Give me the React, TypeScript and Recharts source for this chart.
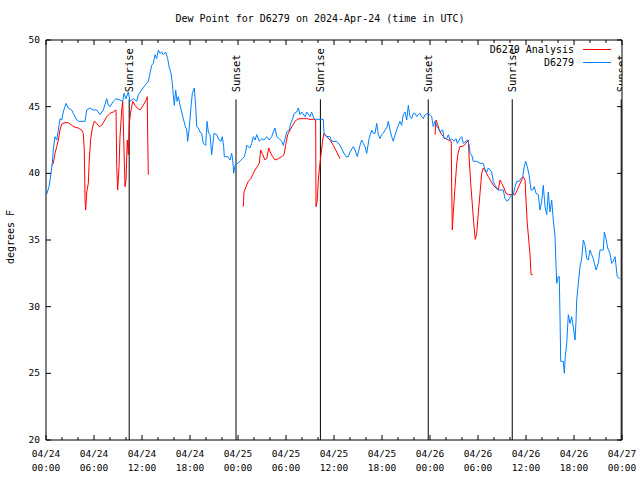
import React from 'react';
import { ComposedChart, Line, Scatter, XAxis, YAxis, ReferenceLine } from 'recharts';

const FONT = '"DejaVu Sans Mono", monospace';
const FS = 9.5;

// hours after 2024-04-24 00:00 UTC, dew point (degrees F)
const d6279: [number, number][] = [
  [0.09, 38.45], [0.38, 39.0], [0.63, 40.0], [0.79, 40.8], [0.91, 41.75], [1.13, 42.75], [1.34, 42.5],
  [1.54, 43.25], [1.75, 44.1], [1.96, 44.0], [2.16, 44.6], [2.5, 45.25], [2.79, 44.9], [3.21, 44.75],
  [3.41, 44.5], [3.84, 44.0], [4.04, 43.9], [4.88, 43.9], [5.09, 44.75], [5.5, 44.9], [5.91, 44.75],
  [6.34, 44.75], [6.75, 44.4], [7.16, 44.75], [7.59, 45.6], [7.79, 45.1], [8.0, 45.0], [8.41, 45.4],
  [8.75, 45.6], [9.25, 45.5], [9.59, 45.4], [9.75, 46.0], [10.0, 45.6], [10.29, 46.1], [10.5, 45.4],
  [10.91, 45.6], [11.34, 45.4], [11.54, 45.9], [11.96, 46.25], [12.38, 46.6], [12.79, 46.9], [13.0, 47.5],
  [13.21, 48.1], [13.41, 48.25], [13.63, 48.9], [13.84, 48.6], [14.04, 49.25], [14.25, 49.0], [14.46, 49.1],
  [14.66, 48.9], [14.96, 49.1], [15.21, 48.6], [15.38, 48.0], [15.63, 47.5], [15.79, 46.75], [15.91, 45.9],
  [16.04, 45.1], [16.21, 46.25], [16.38, 45.4], [16.54, 45.75], [16.75, 45.1], [16.96, 44.6], [17.16, 44.1],
  [17.38, 43.6], [17.59, 43.25], [17.71, 42.4], [17.88, 43.25], [18.13, 45.0], [18.29, 46.0], [18.54, 46.4],
  [18.71, 45.0], [18.84, 43.5], [19.04, 43.4], [19.25, 43.1], [19.46, 43.0], [19.66, 42.25], [19.96, 42.1],
  [20.13, 43.9], [20.29, 43.1], [20.5, 42.9], [20.71, 41.4], [20.84, 42.1], [21.0, 43.0], [21.34, 42.9],
  [21.63, 42.5], [21.88, 42.4], [22.04, 42.75], [22.21, 42.0], [22.29, 41.25], [22.71, 41.25], [23.0, 41.0],
  [23.21, 41.5], [23.34, 41.0], [23.46, 40.0], [23.63, 40.6], [23.96, 40.75], [24.25, 40.9], [24.54, 41.1],
  [24.79, 41.25], [25.0, 41.75], [25.09, 42.1], [25.5, 41.9], [25.71, 42.25], [25.91, 42.75], [26.13, 42.5],
  [26.34, 42.9], [26.66, 42.4], [26.96, 42.6], [27.25, 42.5], [27.59, 42.75], [27.91, 42.5], [28.21, 42.75],
  [28.41, 43.1], [28.63, 43.4], [28.84, 42.75], [29.16, 42.6], [29.46, 42.4], [29.66, 42.1], [29.88, 42.6],
  [30.09, 43.1], [30.41, 43.25], [30.59, 43.75], [30.84, 44.1], [31.04, 44.5], [31.34, 44.6], [31.54, 44.9],
  [31.75, 44.4], [31.96, 44.6], [32.38, 44.25], [32.59, 44.6], [33.0, 44.25], [33.21, 44.6], [33.5, 44.1],
  [33.84, 44.05], [34.66, 44.05], [34.75, 43.0], [35.0, 42.75], [35.5, 42.75], [35.71, 42.4], [36.34, 42.4],
  [36.75, 42.1], [37.16, 41.6], [37.5, 41.25], [37.79, 41.25], [38.0, 41.6], [38.41, 42.0], [38.63, 41.75],
  [38.91, 41.25], [39.25, 42.1], [39.46, 42.5], [39.66, 42.25], [39.88, 42.0], [40.09, 41.5], [40.38, 42.6],
  [40.71, 43.25], [40.91, 43.0], [41.13, 43.0], [41.34, 43.75], [41.54, 42.9], [41.75, 42.6], [41.96, 42.9],
  [42.16, 43.0], [42.38, 43.25], [42.59, 43.4], [42.79, 43.9], [43.0, 43.25], [43.21, 42.75], [43.41, 42.4],
  [43.63, 42.9], [43.84, 43.25], [44.04, 43.6], [44.25, 43.9], [44.46, 43.6], [44.66, 44.4], [44.88, 44.6],
  [45.09, 44.0], [45.29, 45.1], [45.5, 44.25], [45.71, 44.1], [45.91, 44.5], [46.13, 44.5], [46.34, 44.25],
  [46.54, 44.4], [46.75, 44.5], [46.96, 44.25], [47.16, 44.1], [47.38, 44.4], [47.79, 44.5], [48.0, 44.4],
  [48.21, 44.25], [48.41, 43.5], [48.63, 43.9], [48.84, 43.5], [49.04, 43.4], [49.25, 43.1], [49.59, 43.25],
  [49.75, 42.6], [50.09, 42.6], [50.29, 42.9], [50.5, 42.5], [50.71, 42.6], [51.0, 42.4], [51.25, 42.6],
  [51.41, 42.25], [51.75, 42.6], [51.96, 42.75], [52.16, 42.25], [52.5, 42.4], [52.71, 42.5], [52.91, 42.1],
  [53.0, 41.5], [53.21, 41.4], [53.41, 40.9], [53.84, 40.9], [54.25, 40.75], [54.66, 40.75], [54.88, 40.25],
  [55.09, 40.1], [55.29, 40.4], [55.5, 40.25], [55.71, 40.1], [55.91, 39.4], [56.13, 39.1], [56.34, 38.9],
  [56.54, 38.75], [57.16, 38.75], [57.38, 38.1], [57.66, 37.9], [57.91, 38.1], [58.21, 38.4], [58.41, 38.4],
  [58.63, 39.0], [58.84, 39.4], [59.16, 39.4], [59.34, 39.6], [59.59, 39.75], [59.75, 40.4], [59.96, 40.9],
  [60.16, 40.5], [60.38, 39.9], [60.63, 38.75], [60.84, 38.75], [61.04, 39.0], [61.25, 38.5], [61.54, 38.4],
  [61.75, 37.25], [61.96, 37.9], [62.16, 39.1], [62.38, 37.5], [62.59, 36.9], [62.79, 38.6], [63.0, 37.1],
  [63.21, 38.0], [63.41, 36.5], [63.63, 35.25], [63.75, 33.1], [63.84, 31.75], [64.04, 32.25], [64.16, 32.25],
  [64.25, 29.25], [64.34, 25.9], [64.66, 25.9], [64.79, 25.0], [64.91, 26.25], [65.09, 27.25], [65.29, 29.4],
  [65.5, 28.75], [65.71, 29.25], [65.91, 28.5], [66.13, 27.5], [66.25, 28.9], [66.34, 30.5], [66.54, 31.75],
  [66.75, 33.0], [66.96, 33.6], [67.16, 35.0], [67.38, 34.6], [67.59, 33.6], [67.79, 33.5], [68.0, 34.25],
  [68.21, 33.9], [68.41, 33.6], [68.75, 32.75], [69.04, 33.25], [69.25, 34.25], [69.66, 34.25], [69.79, 35.6],
  [70.0, 35.1], [70.21, 34.4], [70.5, 34.0], [70.71, 33.25], [70.91, 33.4], [71.13, 33.75], [71.25, 33.1],
  [71.41, 32.25], [71.75, 32.1],
];

// D6279 Analysis, three separate runs
const analysisRun1: [number, number][] = [
  [0.71, 40.6], [0.91, 40.75], [1.13, 41.5], [1.34, 42.0], [1.54, 42.5], [1.75, 43.25], [1.96, 43.7],
  [2.38, 43.8], [2.79, 43.8], [3.21, 43.6], [3.63, 43.45], [4.04, 43.4], [4.46, 43.25], [4.66, 43.0],
  [4.79, 41.75], [4.88, 38.0], [4.96, 37.25], [5.09, 38.6], [5.29, 39.25], [5.41, 41.0], [5.59, 42.6],
  [5.79, 43.4], [6.04, 43.9], [6.34, 43.75], [6.66, 43.5], [6.96, 43.6], [7.25, 43.9], [7.59, 44.25],
  [8.0, 44.5], [8.41, 44.6], [8.75, 44.75], [8.84, 40.5], [8.96, 38.75], [9.13, 40.5], [9.25, 42.75],
  [9.46, 44.75], [9.59, 45.4], [9.75, 41.75], [9.88, 39.0], [10.0, 39.5], [10.16, 42.5], [10.29, 41.4],
  [10.41, 43.75], [10.59, 44.6], [10.84, 45.4], [11.13, 45.1], [11.41, 44.9], [11.75, 44.75], [12.16, 45.1],
  [12.59, 45.6], [12.66, 45.75], [12.71, 42.9], [12.79, 39.9],
];
const analysisRun2: [number, number][] = [
  [24.66, 37.5], [24.75, 38.6], [25.0, 39.0], [25.29, 39.4], [25.59, 39.6], [25.84, 39.9], [26.13, 40.25],
  [26.41, 40.5], [26.66, 40.75], [26.84, 41.75], [27.09, 41.4], [27.38, 41.0], [27.59, 41.1], [27.84, 41.9],
  [28.09, 41.5], [28.34, 41.25], [28.63, 41.0], [29.04, 41.1], [29.46, 41.25], [29.75, 41.4], [30.0, 42.25],
  [30.21, 42.9], [30.5, 43.25], [30.84, 43.6], [31.13, 43.9], [31.41, 44.05], [31.75, 44.1], [32.16, 44.1],
  [32.59, 44.1], [33.0, 44.05], [33.41, 44.05], [33.71, 44.0], [33.75, 37.5], [33.91, 38.0], [34.04, 39.5],
  [34.16, 40.25], [34.34, 41.25], [34.59, 42.5], [34.75, 43.0], [35.09, 42.75], [35.5, 42.5], [35.91, 42.1],
  [36.34, 41.6], [36.75, 41.1],
];
const analysisRun3: [number, number][] = [
  [48.63, 42.9], [48.75, 44.0], [48.91, 43.75], [49.16, 43.25], [49.46, 42.9], [49.75, 42.7], [50.09, 42.55],
  [50.5, 42.45], [50.66, 42.4], [50.71, 39.0], [50.79, 35.75], [50.91, 37.0], [51.13, 39.0], [51.34, 40.75],
  [51.54, 41.6], [51.75, 42.0], [52.16, 42.05], [52.5, 42.25], [52.79, 42.5], [52.91, 41.0], [53.09, 39.25],
  [53.34, 37.25], [53.5, 36.0], [53.66, 35.05], [53.84, 35.5], [54.04, 37.0], [54.25, 38.5], [54.46, 40.0],
  [54.66, 40.4], [55.0, 40.1], [55.29, 39.75], [55.63, 39.4], [55.91, 39.1], [56.25, 38.9], [56.54, 38.75],
  [56.75, 39.5], [56.96, 39.25], [57.25, 38.9], [57.5, 38.5], [57.79, 38.4], [58.63, 38.4], [58.91, 38.75],
  [59.16, 39.1], [59.46, 39.5], [59.66, 39.75], [59.88, 39.5], [60.0, 38.0], [60.16, 36.25], [60.38, 34.75],
  [60.5, 33.9], [60.63, 32.4], [60.84, 32.4],
];

const sunHours = [10.4, 23.75, 34.3, 47.78, 58.28, 71.9];
const sunLabels = ['Sunrise', 'Sunset', 'Sunrise', 'Sunset', 'Sunrise', 'Sunset'];
const sunLineTop = 45.55;

const legendNames = ['D6279 Analysis', 'D6279'];
const legendColors = ['#ff0000', '#0080ff'];

const xTickHours = [0, 2, 4, 6, 8, 10, 12, 14, 16, 18, 20, 22, 24, 26, 28, 30, 32, 34, 36, 38, 40, 42, 44, 46, 48, 50, 52, 54, 56, 58, 60, 62, 64, 66, 68, 70, 72];
const yTickValues = [20, 25, 30, 35, 40, 45, 50];

const toRows = (pts: [number, number][]) => pts.map(([t, v]) => ({ t, v }));
const sunRows = sunHours.map((t, i) => ({ t, v: sunLineTop, label: sunLabels[i] }));

const pad = (n: number) => (n < 10 ? '0' + n : '' + n);

const XTick = (props: any) => {
  const { x, y, payload, side } = props;
  const h = payload.value;
  const major = h % 6 === 0;
  const len = major ? 5 : 3;
  if (side === 'top') {
    return <line x1={x} x2={x} y1={y} y2={y + len} stroke="#000" />;
  }
  const day = 24 + Math.floor(h / 24);
  return (
    <g>
      <line x1={x} x2={x} y1={y} y2={y - len} stroke="#000" />
      {major && (
        <text x={x} y={y} textAnchor="middle" fontFamily={FONT} fontSize={FS} fill="#000">
          <tspan x={x} dy={17}>{`04/${day}`}</tspan>
          <tspan x={x} dy={14}>{`${pad(h % 24)}:00`}</tspan>
        </text>
      )}
    </g>
  );
};

const YTick = (props: any) => {
  const { x, y, payload, side } = props;
  if (side === 'right') {
    return <line x1={x} x2={x - 5} y1={y} y2={y} stroke="#000" />;
  }
  return (
    <g>
      <line x1={x} x2={x + 5} y1={y} y2={y} stroke="#000" />
      <text x={x - 6} y={y} dy={3} textAnchor="end" fontFamily={FONT} fontSize={FS} fill="#000">
        {payload.value}
      </text>
    </g>
  );
};

const SunLabel = (props: any) => {
  const { cx, cy, payload } = props;
  const ty = cy - 7;
  return (
    <text
      x={cx}
      y={ty}
      transform={`rotate(-90 ${cx} ${ty})`}
      dominantBaseline="central"
      fontFamily={FONT}
      fontSize={FS + 1}
      fill="#000"
    >
      {payload.label}
    </text>
  );
};

export default function App() {
  return (
    <div style={{ position: 'fixed', left: 0, top: 0, width: 640, height: 480, background: '#fff' }}>
      <div
        style={{
          position: 'absolute', top: 13, left: 0, width: 640, textAlign: 'center',
          fontFamily: FONT, fontSize: FS + 0.5, color: '#000',
        }}
      >
        Dew Point for D6279 on 2024-Apr-24 (time in UTC)
      </div>
      <div
        style={{
          position: 'absolute', left: 10, top: 237, transform: 'translate(-50%, -50%) rotate(-90deg)',
          fontFamily: FONT, fontSize: FS + 0.5, whiteSpace: 'nowrap', color: '#000',
        }}
      >
        degrees F
      </div>
      <div style={{ position: 'absolute', top: 43, right: 29, fontFamily: FONT, fontSize: FS + 0.5, zIndex: 2 }}>
        {legendNames.map((name, i) => (
          <div key={name} style={{ display: 'flex', alignItems: 'center', justifyContent: 'flex-end', height: 13 }}>
            <span style={{ marginRight: 9 }}>{name}</span>
            <span style={{ display: 'inline-block', width: 28, height: 0, borderTop: `1px solid ${legendColors[i]}` }} />
          </div>
        ))}
      </div>
      <ComposedChart width={640} height={480} margin={{ top: 39, right: 17, bottom: 39, left: 45 }}>
        <XAxis
          xAxisId="b" type="number" dataKey="t" domain={[0, 72]} ticks={xTickHours} allowDataOverflow
          height={1} tickSize={0} tickMargin={0} interval={0} stroke="#000"
          tick={(p: any) => <XTick {...p} side="bottom" />}
        />
        <XAxis
          xAxisId="t" orientation="top" type="number" dataKey="t" domain={[0, 72]} ticks={xTickHours} allowDataOverflow
          height={1} tickSize={0} tickMargin={0} interval={0} stroke="#000"
          tick={(p: any) => <XTick {...p} side="top" />}
        />
        <YAxis
          yAxisId="l" type="number" domain={[20, 50]} ticks={yTickValues} allowDataOverflow
          width={1} tickSize={0} tickMargin={0} interval={0} stroke="#000"
          tick={(p: any) => <YTick {...p} side="left" />}
        />
        <YAxis
          yAxisId="r" orientation="right" type="number" domain={[20, 50]} ticks={yTickValues} allowDataOverflow
          width={1} tickSize={0} tickMargin={0} interval={0} stroke="#000"
          tick={(p: any) => <YTick {...p} side="right" />}
        />
        {sunHours.map((h) => (
          <ReferenceLine
            key={h} xAxisId="b" yAxisId="l" stroke="#000" strokeWidth={1}
            segment={[{ x: h, y: 20 }, { x: h, y: sunLineTop }]}
          />
        ))}
        <Line
          xAxisId="b" yAxisId="l" data={toRows(analysisRun1)} dataKey="v"
          stroke="#ff0000" strokeWidth={1} dot={false} isAnimationActive={false}
        />
        <Line
          xAxisId="b" yAxisId="l" data={toRows(analysisRun2)} dataKey="v"
          stroke="#ff0000" strokeWidth={1} dot={false} isAnimationActive={false}
        />
        <Line
          xAxisId="b" yAxisId="l" data={toRows(analysisRun3)} dataKey="v"
          stroke="#ff0000" strokeWidth={1} dot={false} isAnimationActive={false}
        />
        <Line
          xAxisId="b" yAxisId="l" data={toRows(d6279)} dataKey="v"
          stroke="#0080ff" strokeWidth={1} dot={false} isAnimationActive={false}
        />
        <Scatter
          xAxisId="b" yAxisId="l" data={sunRows} dataKey="v"
          shape={(p: any) => <SunLabel {...p} />} isAnimationActive={false}
        />
      </ComposedChart>
    </div>
  );
}
